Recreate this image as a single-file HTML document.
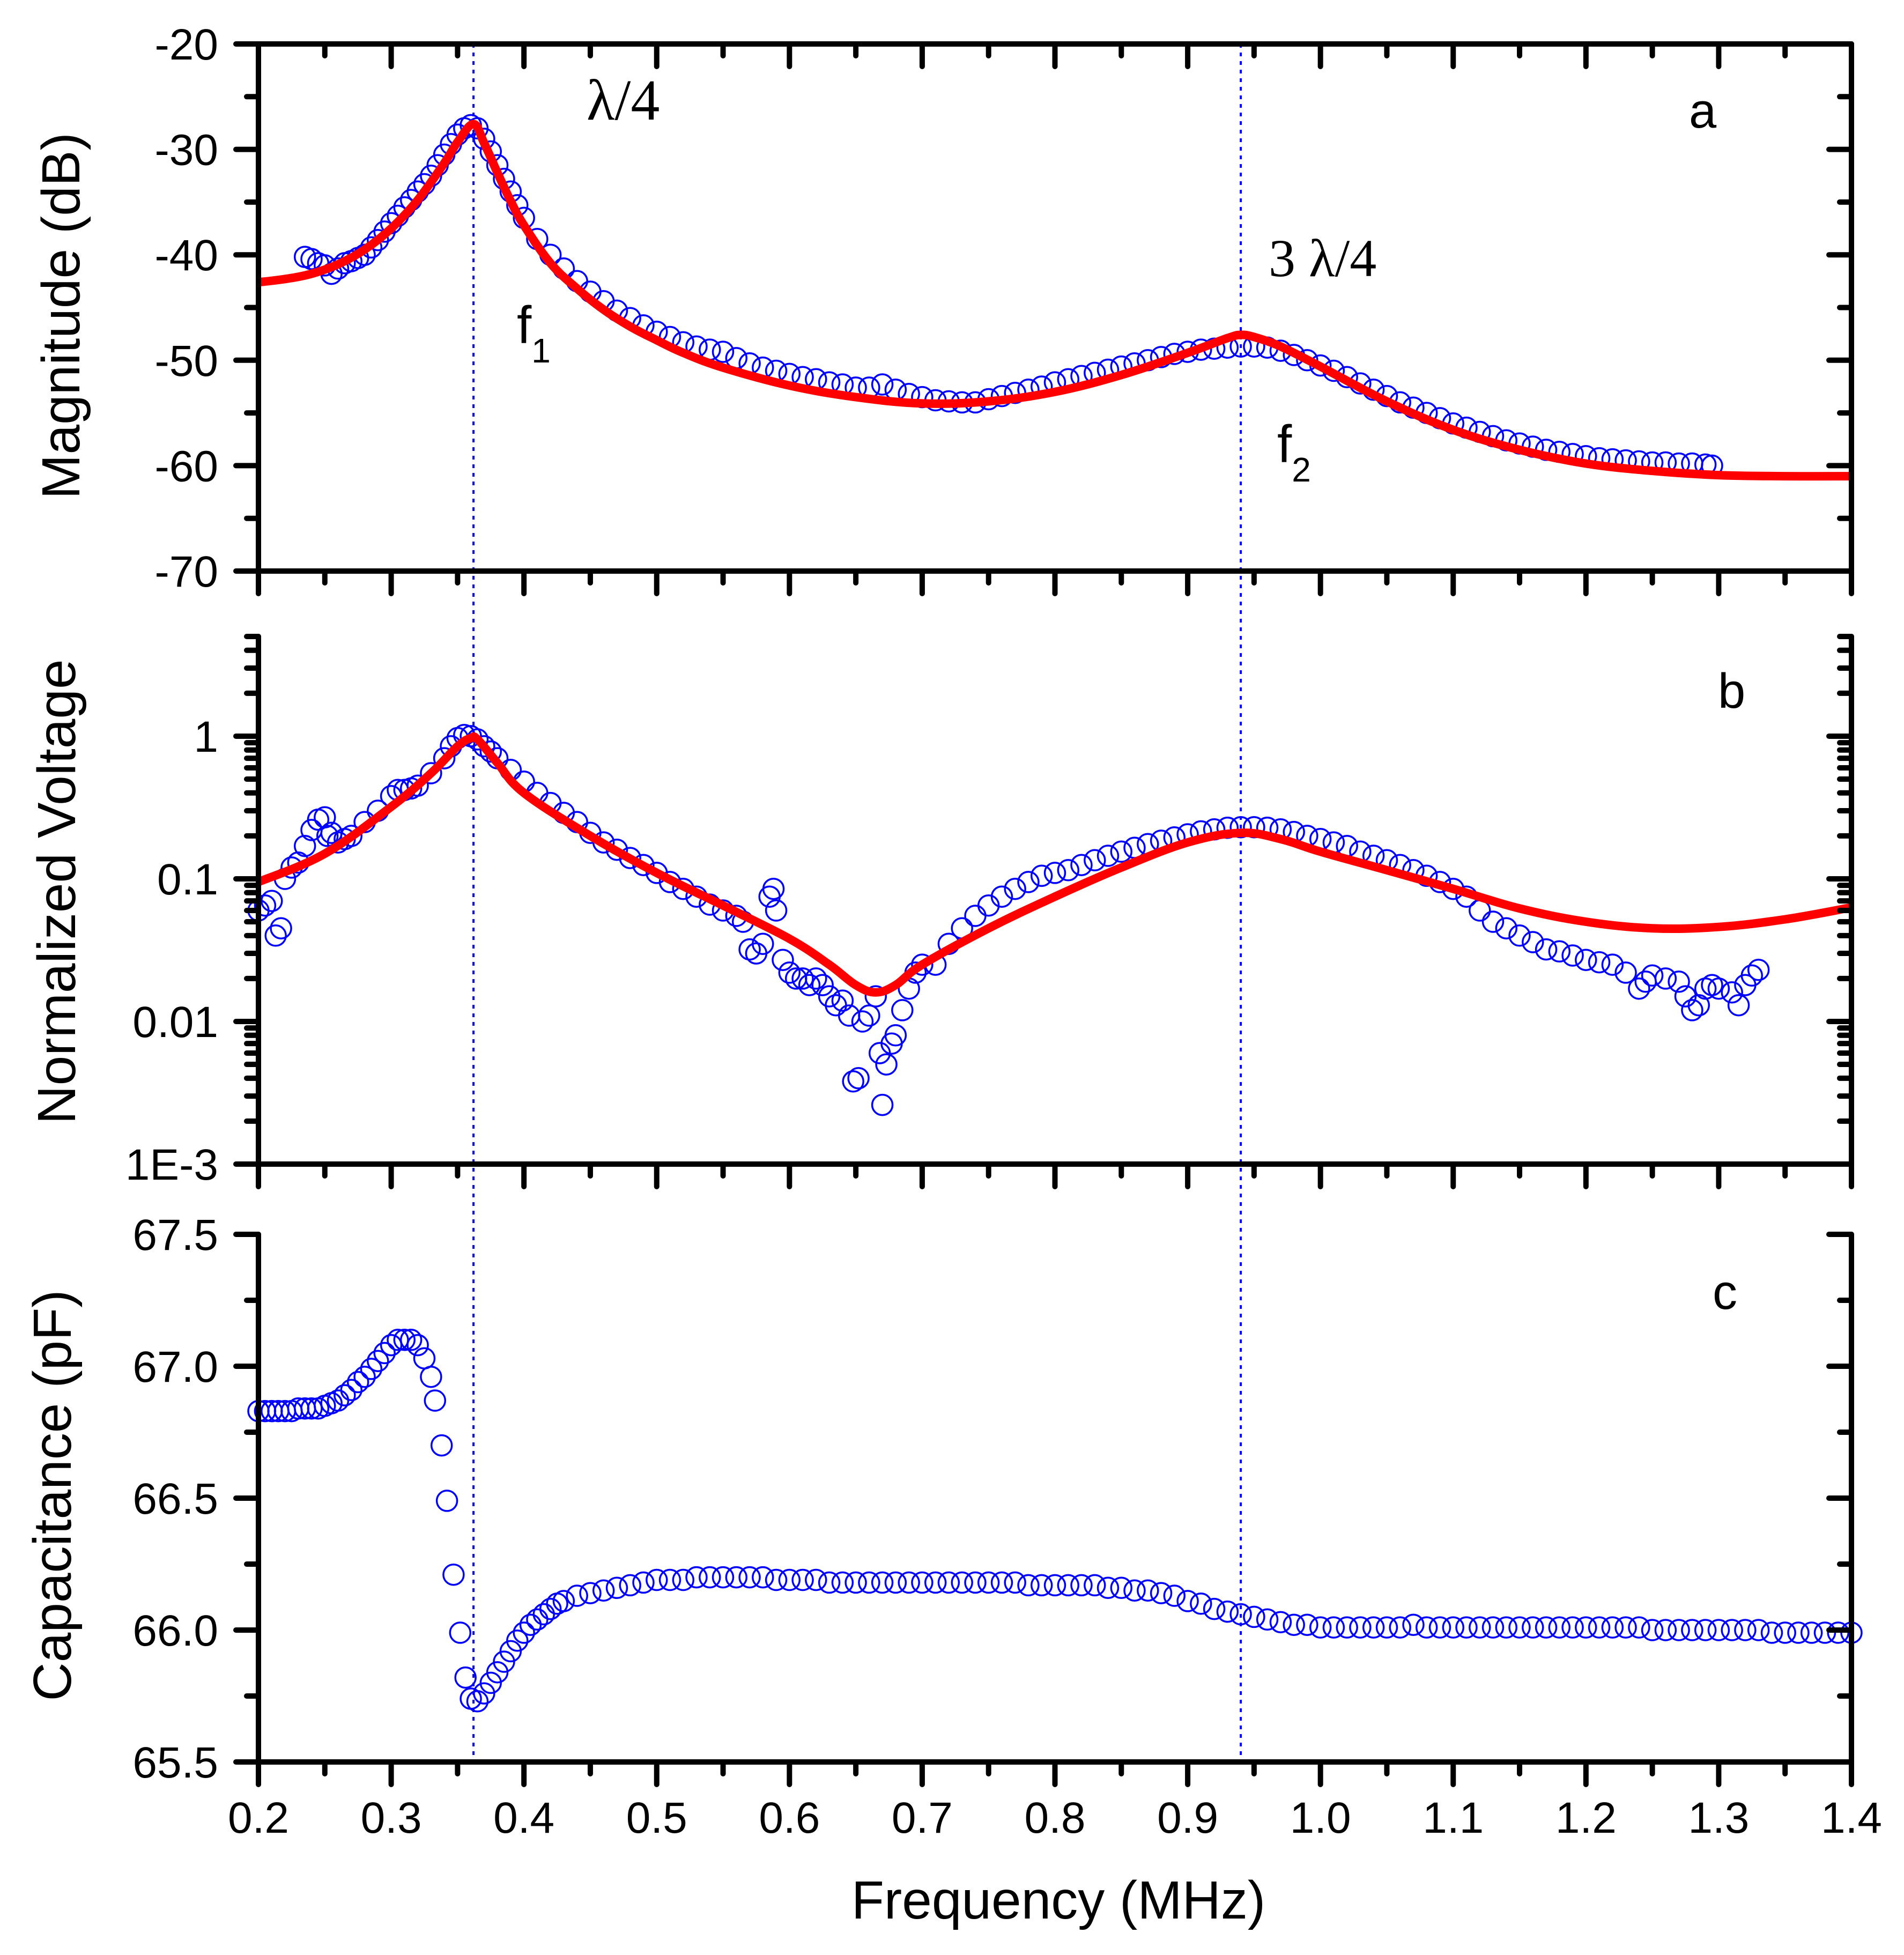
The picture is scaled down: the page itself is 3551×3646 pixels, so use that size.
<!DOCTYPE html>
<html><head><meta charset="utf-8"><style>
html,body{margin:0;padding:0;background:#fff;}
svg{display:block;}
text{font-family:"Liberation Sans",Arial,sans-serif;fill:#000;}
.serif{font-family:"Liberation Serif","Times New Roman",serif;}
</style></head><body>
<svg id="chart" xmlns="http://www.w3.org/2000/svg" width="3551" height="3646" viewBox="0 0 3551 3646">
<rect x="0" y="0" width="3551" height="3646" fill="#fff"/>
<g id="marks"></g>
<g id="axes"></g>
<text x="1974" y="3578" font-size="100" text-anchor="middle">Frequency (MHz)</text>
<text transform="translate(148,589) rotate(-90)" font-size="100" text-anchor="middle">Magnitude (dB)</text>
<text transform="translate(140,1663) rotate(-90)" font-size="100" text-anchor="middle">Normalized Voltage</text>
<text transform="translate(132,2789) rotate(-90)" font-size="100" text-anchor="middle">Capacitance (pF)</text>
<text class="serif" x="1094" y="223" font-size="108">λ/4</text>
<text class="serif" x="2366" y="515" font-size="100">3 λ/4</text>
<text x="964" y="640" font-size="98">f<tspan font-size="64" dy="36">1</tspan></text>
<text x="2382" y="862" font-size="98">f<tspan font-size="64" dy="36">2</tspan></text>
<text x="3150" y="238" font-size="92">a</text>
<text x="3204" y="1320" font-size="92">b</text>
<text x="3194" y="2441" font-size="92">c</text>
</svg>
<script>
// ---- data ----
const aFreq = [0.235,0.24,0.245,0.25,0.255,0.26,0.265,0.27,0.275,0.28,0.285,0.29,0.295,0.30,0.305,0.31,0.315,0.32,0.325,0.33,0.335,0.34,0.345,0.35,0.355,0.36,0.365,0.37,0.375,0.38,0.385,0.39,0.395,0.40,0.41,0.42,0.43,0.44,0.45,0.46,0.47,0.48,0.49,0.50,0.51,0.52,0.53,0.54,0.55,0.56,0.57,0.58,0.59,0.60,0.61,0.62,0.63,0.64,0.65,0.66,0.67,0.68,0.69,0.70,0.71,0.72,0.73,0.74,0.75,0.76,0.77,0.78,0.79,0.80,0.81,0.82,0.83,0.84,0.85,0.86,0.87,0.88,0.89,0.90,0.91,0.92,0.93,0.94,0.95,0.96,0.97,0.98,0.99,1.00,1.01,1.02,1.03,1.04,1.05,1.06,1.07,1.08,1.09,1.10,1.11,1.12,1.13,1.14,1.15,1.16,1.17,1.18,1.19,1.20,1.21,1.22,1.23,1.24,1.25,1.26,1.27,1.28,1.29,1.295];
const aMeas = [-40.2,-40.4,-40.8,-41.0,-41.8,-41.3,-40.8,-40.6,-40.3,-40.0,-39.3,-38.6,-37.8,-37.0,-36.3,-35.5,-34.8,-34.0,-33.3,-32.5,-31.5,-30.5,-29.5,-28.6,-28.0,-27.7,-28.0,-29.0,-30.2,-31.5,-32.8,-34.0,-35.3,-36.5,-38.5,-40.0,-41.3,-42.5,-43.5,-44.4,-45.3,-46.0,-46.7,-47.3,-47.8,-48.3,-48.7,-49.0,-49.2,-49.8,-50.3,-50.7,-51.0,-51.3,-51.6,-51.8,-52.1,-52.3,-52.6,-52.6,-52.3,-52.8,-53.2,-53.5,-53.8,-53.9,-54.0,-54.0,-53.7,-53.4,-53.1,-52.8,-52.5,-52.1,-51.8,-51.5,-51.2,-50.9,-50.6,-50.3,-50.0,-49.7,-49.4,-49.2,-49.0,-48.9,-48.8,-48.7,-48.7,-48.8,-49.1,-49.5,-50.0,-50.5,-51.0,-51.6,-52.2,-52.8,-53.4,-54.0,-54.5,-55.0,-55.5,-56.0,-56.4,-56.8,-57.2,-57.6,-57.9,-58.2,-58.5,-58.7,-58.9,-59.1,-59.3,-59.4,-59.5,-59.6,-59.7,-59.7,-59.8,-59.8,-59.9,-60.0];
const aFitFreq = [0.2,0.22,0.24,0.26,0.28,0.30,0.32,0.34,0.35,0.362,0.37,0.38,0.39,0.40,0.42,0.44,0.46,0.48,0.50,0.52,0.55,0.60,0.65,0.70,0.75,0.80,0.85,0.90,0.93,0.94,0.95,0.97,1.00,1.05,1.10,1.15,1.20,1.25,1.30,1.35,1.40];
const aFit = [-42.6,-42.3,-41.8,-40.9,-39.5,-37.5,-34.8,-31.3,-29.3,-27.6,-29.4,-32.2,-34.9,-37.2,-40.8,-43.2,-45.2,-46.8,-48.1,-49.3,-50.7,-52.4,-53.5,-54.1,-53.9,-53.0,-51.4,-49.3,-47.9,-47.6,-47.8,-48.7,-50.6,-53.9,-56.6,-58.5,-59.8,-60.5,-60.9,-61.0,-61.0];

const bFreq = [0.20,0.205,0.21,0.213,0.217,0.22,0.225,0.23,0.235,0.24,0.245,0.25,0.252,0.255,0.26,0.265,0.27,0.28,0.29,0.30,0.305,0.31,0.315,0.32,0.33,0.34,0.345,0.35,0.355,0.36,0.365,0.37,0.375,0.38,0.39,0.40,0.41,0.42,0.43,0.44,0.45,0.46,0.47,0.48,0.49,0.50,0.51,0.52,0.53,0.54,0.55,0.56,0.565,0.57,0.575,0.58,0.585,0.588,0.59,0.595,0.60,0.605,0.61,0.615,0.62,0.625,0.63,0.635,0.64,0.645,0.648,0.652,0.655,0.66,0.665,0.668,0.67,0.673,0.677,0.68,0.685,0.69,0.695,0.70,0.71,0.72,0.73,0.74,0.75,0.76,0.77,0.78,0.79,0.80,0.81,0.82,0.83,0.84,0.85,0.86,0.87,0.88,0.89,0.90,0.91,0.92,0.93,0.94,0.95,0.96,0.97,0.98,0.99,1.00,1.01,1.02,1.03,1.04,1.05,1.06,1.07,1.08,1.09,1.10,1.11,1.12,1.13,1.14,1.15,1.16,1.17,1.18,1.19,1.20,1.21,1.22,1.23,1.24,1.245,1.25,1.26,1.27,1.275,1.28,1.285,1.29,1.295,1.30,1.31,1.315,1.32,1.325,1.33];
const bMeas = [0.06,0.065,0.07,0.04,0.045,0.1,0.12,0.13,0.17,0.22,0.26,0.27,0.2,0.21,0.18,0.19,0.2,0.25,0.3,0.38,0.42,0.42,0.43,0.45,0.55,0.7,0.85,0.97,1.02,1.0,0.95,0.85,0.78,0.7,0.58,0.48,0.4,0.34,0.29,0.25,0.21,0.18,0.16,0.14,0.125,0.11,0.095,0.085,0.075,0.066,0.06,0.055,0.05,0.032,0.03,0.035,0.075,0.085,0.06,0.027,0.022,0.02,0.02,0.018,0.02,0.018,0.015,0.013,0.014,0.011,0.0038,0.004,0.01,0.011,0.015,0.006,0.0026,0.005,0.007,0.008,0.012,0.017,0.022,0.025,0.025,0.035,0.045,0.055,0.065,0.075,0.085,0.095,0.105,0.11,0.115,0.125,0.135,0.145,0.155,0.165,0.175,0.185,0.195,0.205,0.215,0.222,0.228,0.23,0.23,0.228,0.222,0.213,0.2,0.19,0.18,0.17,0.155,0.145,0.135,0.125,0.115,0.105,0.095,0.085,0.075,0.06,0.05,0.045,0.04,0.036,0.032,0.031,0.029,0.027,0.026,0.025,0.022,0.017,0.019,0.021,0.02,0.019,0.015,0.012,0.013,0.017,0.018,0.017,0.016,0.013,0.018,0.021,0.023];
const bFitFreq = [0.2,0.25,0.30,0.33,0.35,0.36,0.365,0.38,0.40,0.45,0.50,0.55,0.60,0.63,0.65,0.665,0.68,0.70,0.75,0.80,0.85,0.90,0.94,0.97,1.00,1.05,1.10,1.15,1.20,1.25,1.30,1.35,1.40];
const bFit = [0.095,0.15,0.32,0.55,0.85,0.97,0.95,0.65,0.4,0.2,0.11,0.065,0.038,0.025,0.018,0.016,0.018,0.025,0.045,0.075,0.12,0.18,0.21,0.19,0.155,0.115,0.085,0.062,0.05,0.045,0.046,0.052,0.063];

const cFreq = [0.20,0.205,0.21,0.215,0.22,0.225,0.23,0.235,0.24,0.245,0.25,0.255,0.26,0.265,0.27,0.275,0.28,0.285,0.29,0.295,0.30,0.305,0.31,0.315,0.32,0.325,0.33,0.333,0.338,0.342,0.347,0.352,0.356,0.36,0.365,0.37,0.375,0.38,0.385,0.39,0.395,0.40,0.405,0.41,0.415,0.42,0.425,0.43,0.44,0.45,0.46,0.47,0.48,0.49,0.50,0.51,0.52,0.53,0.54,0.55,0.56,0.57,0.58,0.59,0.60,0.61,0.62,0.63,0.64,0.65,0.66,0.67,0.68,0.69,0.70,0.71,0.72,0.73,0.74,0.75,0.76,0.77,0.78,0.79,0.80,0.81,0.82,0.83,0.84,0.85,0.86,0.87,0.88,0.89,0.90,0.91,0.92,0.93,0.94,0.95,0.96,0.97,0.98,0.99,1.00,1.01,1.02,1.03,1.04,1.05,1.06,1.07,1.08,1.09,1.10,1.11,1.12,1.13,1.14,1.15,1.16,1.17,1.18,1.19,1.20,1.21,1.22,1.23,1.24,1.25,1.26,1.27,1.28,1.29,1.30,1.31,1.32,1.33,1.34,1.35,1.36,1.37,1.38,1.39,1.40];
const cMeas = [66.83,66.83,66.83,66.83,66.83,66.83,66.84,66.84,66.84,66.84,66.85,66.86,66.87,66.89,66.91,66.94,66.96,66.99,67.02,67.05,67.08,67.1,67.1,67.1,67.08,67.03,66.96,66.87,66.7,66.49,66.21,65.99,65.82,65.74,65.73,65.76,65.8,65.84,65.88,65.92,65.96,65.99,66.02,66.04,66.06,66.08,66.1,66.11,66.13,66.14,66.15,66.16,66.17,66.18,66.19,66.19,66.19,66.2,66.2,66.2,66.2,66.2,66.2,66.19,66.19,66.19,66.19,66.18,66.18,66.18,66.18,66.18,66.18,66.18,66.18,66.18,66.18,66.18,66.18,66.18,66.18,66.18,66.17,66.17,66.17,66.17,66.17,66.17,66.16,66.16,66.15,66.15,66.14,66.13,66.11,66.1,66.08,66.07,66.06,66.05,66.04,66.03,66.02,66.02,66.01,66.01,66.01,66.01,66.01,66.01,66.01,66.02,66.01,66.01,66.01,66.01,66.01,66.01,66.01,66.01,66.01,66.01,66.01,66.01,66.01,66.01,66.01,66.01,66.01,66.0,66.0,66.0,66.0,66.0,66.0,66.0,66.0,66.0,65.99,65.99,65.99,65.99,65.99,65.99,65.99];

const xTickLabels = ["0.2","0.3","0.4","0.5","0.6","0.7","0.8","0.9","1.0","1.1","1.2","1.3","1.4"];
const aTickLabels = ["-20","-30","-40","-50","-60","-70"];
const bTickLabels = ["1","0.1","0.01","1E-3"];
const cTickLabels = ["67.5","67.0","66.5","66.0","65.5"];
const markerFreqs = [0.362, 0.94];

// ---- geometry ----
const NS = "http://www.w3.org/2000/svg";
const X0 = 482, X1 = 3453;
const A = {top:82, bot:1065, min:-70, max:-20};
const B = {top:1187, bot:2171, min:-3, max:Math.log10(5)};
const C = {top:2302, bot:3286, min:65.5, max:67.5};
function xs(f){ return X0 + (f-0.2)/(1.4-0.2)*(X1-X0); }
function ya(v){ return A.bot - (v-A.min)/(A.max-A.min)*(A.bot-A.top); }
function yb(v){ return B.bot - (Math.log10(v)-B.min)/(B.max-B.min)*(B.bot-B.top); }
function yc(v){ return C.bot - (v-C.min)/(C.max-C.min)*(C.bot-C.top); }

const marks = document.getElementById('marks');
const axes = document.getElementById('axes');
function mk(tag, attrs, parent){
  const e = document.createElementNS(NS, tag);
  for (const k in attrs) e.setAttribute(k, attrs[k]);
  parent.appendChild(e); return e;
}
function line(x1,y1,x2,y2,w,name){
  const l = mk('line',{x1:x1,y1:y1,x2:x2,y2:y2,stroke:'#000','stroke-width':w,'stroke-linecap':'round'},axes);
  
  
  return l;
}

markerFreqs.forEach(function(f){
  const l = mk('line',{x1:xs(f),y1:A.top,x2:xs(f),y2:C.bot,stroke:'#0000ff','stroke-width':4,'stroke-dasharray':'7 9'},marks);
  
  
});

function scatter(fr, vals, yf, name){
  const g = mk('g',{},marks);
  
  
  for (let i=0;i<fr.length;i++){
    const c = mk('circle',{cx:xs(fr[i]).toFixed(1),cy:yf(vals[i]).toFixed(1),r:19,fill:'none',stroke:'#0000ff','stroke-width':3.5},g);
    
    
  }
}
function fitLine(fr, vals, yf, name){
  const p = fr.map(function(f,i){ return [xs(f), yf(vals[i])]; });
  let d = 'M'+p[0][0].toFixed(1)+','+p[0][1].toFixed(1);
  for (let i=0;i<p.length-1;i++){
    const p0=p[Math.max(0,i-1)], p1=p[i], p2=p[i+1], p3=p[Math.min(p.length-1,i+2)];
    const t = 0.18;
    const c1=[p1[0]+(p2[0]-p0[0])*t, p1[1]+(p2[1]-p0[1])*t];
    const c2=[p2[0]-(p3[0]-p1[0])*t, p2[1]-(p3[1]-p1[1])*t];
    d += ' C'+c1[0].toFixed(1)+','+c1[1].toFixed(1)+' '+c2[0].toFixed(1)+','+c2[1].toFixed(1)+' '+p2[0].toFixed(1)+','+p2[1].toFixed(1);
  }
  const path = mk('path',{d:d,fill:'none',stroke:'#ff0000','stroke-width':16,'stroke-linejoin':'round'},marks);
  
  
}
scatter(aFreq, aMeas, ya, 'magnitude-measured-series');
fitLine(aFitFreq, aFit, ya, 'magnitude-fit-line');
scatter(bFreq, bMeas, yb, 'voltage-measured-series');
fitLine(bFitFreq, bFit, yb, 'voltage-fit-line');
scatter(cFreq, cMeas, yc, 'capacitance-measured-series');

// ---- axes ----
const W = 10, MAJ = 42, MIN = 22;
function label(x,y,txt,anchor,name){
  const t = mk('text',{x:x,y:y,'font-size':82,'text-anchor':anchor},axes);
  t.textContent = txt;
  
  
}
[A,B,C].forEach(function(P){
  line(X0,P.bot,X1,P.bot,W,'x-axis-line');
  line(X0,P.top,X0,P.bot,W,'y-axis-line-left');
  line(X1,P.top,X1,P.bot,W,'y-axis-line-right');
  for (let k=0;k<=24;k++){
    const f = 0.2 + k*0.05;
    const len = (k%2===0)?MAJ:MIN;
    line(xs(f),P.bot,xs(f),P.bot+len,W,'x-tick');
  }
});
line(X0,A.top,X1,A.top,W,'top-axis-line');
for (let k=0;k<=24;k++){
  const f = 0.2 + k*0.05;
  const len = (k%2===0)?MAJ:MIN;
  line(xs(f),A.top,xs(f),A.top+len,W,'top-x-tick');
}
xTickLabels.forEach(function(s,i){
  label(xs(0.2+i*0.1), 3418, s, 'middle', 'x-tick-label');
});
for (let v=-70; v<=-20; v+=5){
  const len = (v%10===0)?MAJ:MIN;
  line(X0-len,ya(v),X0,ya(v),W,'y-tick-a');
  line(X1-len,ya(v),X1,ya(v),W,'y-tick-a-right');
}
aTickLabels.forEach(function(s){
  label(407, ya(parseFloat(s))+29, s, 'end', 'y-tick-label-a');
});
for (let dec=-3; dec<=0; dec++){
  for (let m=1; m<=9; m++){
    const v = m*Math.pow(10,dec);
    if (Math.log10(v) > B.max + 1e-9) break;
    const len = (m===1)?MAJ:MIN;
    line(X0-len,yb(v),X0,yb(v),W,'y-tick-b');
    line(X1-len,yb(v),X1,yb(v),W,'y-tick-b-right');
  }
}
bTickLabels.forEach(function(s){
  label(407, yb(parseFloat(s))+29, s, 'end', 'y-tick-label-b');
});
for (let k=0;k<=8;k++){
  const v = 65.5 + k*0.25;
  const len = (k%2===0)?MAJ:MIN;
  line(X0-len,yc(v),X0,yc(v),W,'y-tick-c');
  line(X1-len,yc(v),X1,yc(v),W,'y-tick-c-right');
}
cTickLabels.forEach(function(s){
  label(407, yc(parseFloat(s))+29, s, 'end', 'y-tick-label-c');
});
</script>
</body></html>
